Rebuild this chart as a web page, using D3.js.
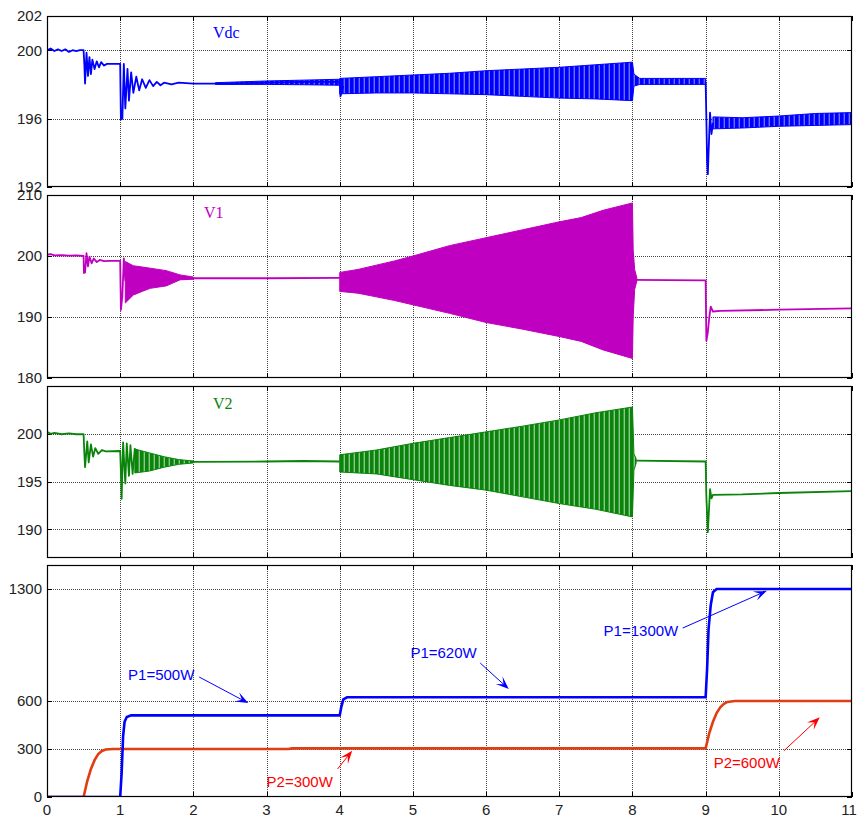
<!DOCTYPE html>
<html><head><meta charset="utf-8">
<script src="https://cdn.jsdelivr.net/npm/d3@7"></script>
<style>body{margin:0;background:#fff}svg{display:block}</style>
</head><body>
<svg id="c" width="858" height="817"></svg>
<script>
// ---------------- data ----------------
const timeTicks = [0,1,2,3,4,5,6,7,8,9,10,11];
const vdcTicks = [192,196,200,202];
const v1Ticks = [180,190,200,210];
const v2Ticks = [190,195,200];
const pTicks = [0,300,600,1300];

// Vdc trace [t, V]  (null = gap where only the oscillation envelope is drawn)
const vdcTrace = [[0,200.0],[0.05,200.1],[0.1,199.95],[0.15,200.05],[0.2,199.95],[0.25,200.05],[0.3,199.9],[0.35,200.0],[0.4,199.95],[0.45,200.0],[0.5,200.0],
 [0.51,199.2],[0.52,198.05],[0.54,199.85],[0.56,198.5],[0.58,199.6],[0.6,198.6],[0.62,199.45],[0.65,198.9],[0.68,199.35],[0.71,199.0],[0.74,199.3],[0.78,199.1],[0.82,199.2],[1.0,199.2],
 [1.005,197.5],[1.01,195.95],[1.03,196.0],[1.05,199.2],[1.07,196.6],[1.1,198.9],[1.12,197.05],[1.15,198.7],[1.18,197.5],[1.22,198.45],[1.26,197.65],[1.3,198.3],[1.35,197.8],[1.4,198.25],[1.45,197.9],[1.5,198.15],[1.55,197.95],[1.6,198.1],[1.7,198.0],[1.8,198.1],[2.0,198.05],[2.5,198.05],[3.0,198.1],[3.5,198.15],[4.0,198.15],
 [4.01,197.3],[4.05,197.9],[null,null],[9.0,198.15],
 [9.01,196.0],[9.02,193.5],[9.03,192.75],[9.04,194.0],[9.06,196.35],[9.08,195.1],[9.1,195.75]];
// Vdc oscillation envelope [t, low, high]
const vdcBand = [[2.3,198.0,198.1],[3.0,198.0,198.2],[3.5,197.98,198.25],[4.0,197.95,198.3],[null,null,null],
 [4.0,197.45,198.35],[4.5,197.5,198.45],[5.0,197.5,198.55],[5.5,197.45,198.65],[6.0,197.4,198.8],[6.5,197.3,198.9],[7.0,197.2,199.0],[7.5,197.15,199.15],[8.0,197.05,199.3],
 [8.02,197.9,198.6],[8.1,198.0,198.35],[9.0,198.0,198.35],[null,null,null],
 [9.1,195.4,196.1],[9.5,195.45,196.05],[10.0,195.55,196.15],[10.5,195.6,196.3],[11.0,195.65,196.35]];

// V1 trace
const v1Trace = [[0,200.2],[0.05,200.3],[0.1,200.1],[0.2,200.15],[0.3,200.05],[0.4,200.1],[0.5,200.0],[0.505,197.2],[0.52,197.3],[0.54,200.45],[0.56,198.3],[0.58,199.9],[0.61,198.8],[0.64,199.6],[0.68,199.0],[0.72,199.35],[0.78,199.15],[0.85,199.2],[1.0,199.2],
 [1.005,195],[1.01,191.15],[1.03,193.5],[1.05,199.6],[1.07,196],[2.0,196.35],[3.0,196.35],[4.0,196.4],[8.0,196.1],[9.0,196.0],
 [9.01,186.1],[9.03,187.5],[9.05,190.0],[9.07,191.7],[9.1,190.9],[9.2,191.0],[10.0,191.2],[11,191.4]];
const v1Band = [[1.07,192.3,199.1],[1.18,193.6,198.4],[1.3,194.2,198.2],[1.41,194.7,198.0],[1.63,195.1,197.6],[1.82,196.1,196.9],[2.0,196.2,196.55],[null,null,null],
 [4.0,194.2,197.3],[4.25,193.9,197.8],[4.5,193.3,198.5],[4.75,192.7,199.2],[5.0,192.0,200.0],[5.5,190.6,201.7],[6.0,189.1,203.0],[6.5,188.0,204.3],[7.0,186.8,205.6],[7.3,186.0,206.3],[7.6,184.6,207.5],[8.0,183.2,208.7],
 [8.01,190,201],[8.03,194.5,197.8],[8.06,195.9,196.4]];

// V2 trace
const v2Trace = [[0,200.2],[0.05,200.0],[0.1,200.1],[0.2,199.95],[0.3,200.05],[0.4,199.95],[0.5,199.95],[0.51,198.0],[0.52,196.5],[0.55,199.2],[0.57,197.0],[0.6,198.9],[0.63,197.6],[0.66,198.5],[0.7,197.9],[0.75,198.3],[0.8,198.15],[1.0,198.2],
 [1.01,196.0],[1.02,193.2],[1.04,199.1],[1.07,194.8],[1.09,199.0],[1.12,195.6],[1.14,198.8],[1.17,195.8],[1.2,198.5],[null,null],[2.0,197.05],[3.0,197.1],[3.5,197.15],[4.0,197.1],[null,null],[8.05,197.2],[9.0,197.1],
 [9.01,193.4],[9.03,189.7],[9.06,194.2],[9.08,193.25],[9.1,193.6],[9.5,193.65],[10,193.8],[11,194.0]];
const v2Band = [[1.2,195.9,198.4],[1.4,196.1,198.0],[1.6,196.5,197.6],[1.8,196.8,197.3],[2.0,196.95,197.15],[null,null,null],
 [4.0,196.0,197.8],[4.5,195.8,198.3],[5.0,195.2,199.0],[5.5,194.6,199.6],[6.0,194.1,200.2],[6.5,193.4,200.8],[7.0,192.7,201.45],[7.5,192.1,202.2],[8.0,191.3,202.8],
 [8.02,196.2,197.9],[8.05,196.9,197.4]];

// Power traces [t, W]
const p1Trace = [[0,0],[1.0,0],[1.02,150],[1.04,380],[1.06,470],[1.09,500],[1.15,510],[4.0,510],[4.02,560],[4.05,610],[4.1,623],[9.0,623],[9.02,800],[9.04,1050],[9.07,1200],[9.1,1280],[9.15,1300],[11,1300]];
const p2Trace = [[0,0],[0.5,0],[0.55,100],[0.6,175],[0.65,230],[0.7,268],[0.75,288],[0.8,297],[0.9,300],[3.3,300],[3.35,304],[9.0,304],[9.05,400],[9.1,470],[9.15,525],[9.2,560],[9.25,582],[9.3,594],[9.4,600],[11,600]];

// Annotations (power panel, data coords)
const annoText = ["P1=500W","P1=620W","P2=300W","P1=1300W","P2=600W"];
const annoSeries = ["P1","P1","P2","P1","P2"];
const annoPos = [[1.108,762],[4.966,900],[3.0,94],[7.606,1038],[9.11,212]];
const annoFrom = [[2.08,750],[5.92,837],[3.97,175],[8.687,1056],[10.07,289]];
const annoTo = [[2.75,587],[6.31,675],[4.17,289],[9.836,1289],[10.56,498]];

// ---------------- drawing ----------------
const svg = d3.select("#c");
const W = 858;
const L = 47, R = 852;
const x = d3.scaleLinear().domain([0,11]).range([L,R]);
const colors = {vdc:"#0000ff", v1:"#c000c0", v2:"#0a840a", P1:"#0000ff", P2:"#e23c12", P2text:"#ff0000"};

const defs = svg.append("defs");
function stripe(id, col, gap){
  const p = defs.append("pattern").attr("id",id).attr("patternUnits","userSpaceOnUse").attr("width",5).attr("height",10);
  p.append("rect").attr("width",5).attr("height",10).attr("fill",gap);
  p.append("rect").attr("width",3.6).attr("height",10).attr("fill",col);
}
stripe("stB","#0000ff","#6f6fff");
stripe("stG","#0a840a","#8cc88c");

const panels = [
  {key:"vdc", dom:[192,202], top:16, bot:187, ticks:vdcTicks, trace:vdcTrace, band:vdcBand, fill:"url(#stB)", title:"Vdc", tx:213, ty:38},
  {key:"v1", dom:[180,210], top:195, bot:378, ticks:v1Ticks, trace:v1Trace, band:v1Band, fill:colors.v1, title:"V1", tx:204, ty:218},
  {key:"v2", dom:[187,205], top:386, bot:558, ticks:v2Ticks, trace:v2Trace, band:v2Band, fill:"url(#stG)", title:"V2", tx:213, ty:409},
  {key:"p", dom:[0,1450], top:565, bot:797, ticks:pTicks}
];

panels.forEach((pn,i)=>{
  const y = d3.scaleLinear().domain(pn.dom).range([pn.bot,pn.top]);
  const g = svg.append("g");
  const cid = "clip"+i;
  defs.append("clipPath").attr("id",cid).append("rect").attr("x",L).attr("y",pn.top).attr("width",R-L).attr("height",pn.bot-pn.top);
  // grid
  const gx = timeTicks.filter(t=>t>0 && t<11);
  g.selectAll(".gx").data(gx).enter().append("line")
    .attr("x1",d=>Math.round(x(d))+0.5).attr("x2",d=>Math.round(x(d))+0.5).attr("y1",pn.top).attr("y2",pn.bot)
    .attr("stroke","#444").attr("stroke-dasharray","1,1").attr("stroke-width",1);
  const gy = pn.ticks.filter(v=>v>pn.dom[0] && v<pn.dom[1]);
  g.selectAll(".gy").data(gy).enter().append("line")
    .attr("y1",d=>Math.round(y(d))+0.5).attr("y2",d=>Math.round(y(d))+0.5).attr("x1",L).attr("x2",R)
    .attr("stroke","#444").attr("stroke-dasharray","1,1").attr("stroke-width",1);
  // ticks inward
  timeTicks.forEach(t=>{
    const xx = Math.round(x(t))+0.5;
    g.append("line").attr("x1",xx).attr("x2",xx).attr("y1",pn.top).attr("y2",pn.top+5).attr("stroke","#000");
    g.append("line").attr("x1",xx).attr("x2",xx).attr("y1",pn.bot).attr("y2",pn.bot-5).attr("stroke","#000");
  });
  pn.ticks.forEach(v=>{
    const yy = Math.round(y(v))+0.5;
    g.append("line").attr("x1",L).attr("x2",L+5).attr("y1",yy).attr("y2",yy).attr("stroke","#000");
    g.append("line").attr("x1",R).attr("x2",R-5).attr("y1",yy).attr("y2",yy).attr("stroke","#000");
  });
  // y labels
  g.selectAll(".yl").data(pn.ticks).enter().append("text")
    .attr("x",L-5).attr("y",d=>y(d)).attr("dy","0.36em").attr("text-anchor","end")
    .attr("font-family","Liberation Sans, Arial, sans-serif").attr("font-size",15).attr("fill","#222")
    .text(d=>d);
  const plot = g.append("g").attr("clip-path",`url(#${cid})`);
  const line = d3.line().defined(d=>d[0]!=null).x(d=>x(d[0])).y(d=>y(d[1]));
  if(pn.key!=="p"){
    const area = d3.area().defined(d=>d[0]!=null).x(d=>x(d[0])).y0(d=>y(d[1])).y1(d=>y(d[2]));
    plot.append("path").datum(pn.band).attr("d",area).attr("fill",pn.fill)
      .attr("stroke",colors[pn.key]).attr("stroke-width",1);
    plot.append("path").datum(pn.trace).attr("d",line).attr("fill","none")
      .attr("stroke",colors[pn.key]).attr("stroke-width",1.8).attr("stroke-linejoin","round");
    g.append("text").attr("x",pn.tx).attr("y",pn.ty).attr("font-family","Liberation Serif, Times New Roman, serif")
      .attr("font-size",16).attr("fill",colors[pn.key]).text(pn.title);
  } else {
    plot.append("path").datum(p2Trace).attr("d",line).attr("fill","none").attr("stroke",colors.P2).attr("stroke-width",2.6);
    plot.append("path").datum(p1Trace).attr("d",line).attr("fill","none").attr("stroke",colors.P1).attr("stroke-width",2.6);
    // x labels
    g.selectAll(".xl").data(timeTicks).enter().append("text")
      .attr("x",d=>Math.min(x(d), W-9)).attr("y",815).attr("text-anchor","middle")
      .attr("font-family","Liberation Sans, Arial, sans-serif").attr("font-size",15).attr("fill","#222")
      .text(d=>d);
    // annotations
    annoText.forEach((txt,k)=>{
      const col = annoSeries[k]==="P1" ? colors.P1 : colors.P2text;
      g.append("text").attr("x",x(annoPos[k][0])).attr("y",y(annoPos[k][1])).attr("dy","0.36em")
        .attr("font-family","Liberation Sans, Arial, sans-serif").attr("font-size",15).attr("fill",col).text(txt);
      const x1 = x(annoFrom[k][0]), y1 = y(annoFrom[k][1]);
      const x2 = x(annoTo[k][0]), y2 = y(annoTo[k][1]);
      const dx = x2-x1, dy = y2-y1, len = Math.hypot(dx,dy), ux = dx/len, uy = dy/len;
      const hl = 13, hw = 5, back = 0.55;
      const bx = x2-ux*hl, by = y2-uy*hl;
      const ix = x2-ux*hl*back, iy = y2-uy*hl*back;
      g.append("line").attr("x1",x1).attr("y1",y1).attr("x2",ix).attr("y2",iy).attr("stroke",col).attr("stroke-width",1);
      g.append("path").attr("d",`M${x2},${y2}L${bx-uy*hw},${by+ux*hw}L${ix},${iy}L${bx+uy*hw},${by-ux*hw}Z`).attr("fill",col);
    });
  }
  // frame
  g.append("rect").attr("x",L+0.5).attr("y",pn.top+0.5).attr("width",R-L-1).attr("height",pn.bot-pn.top-1)
    .attr("fill","none").attr("stroke","#000").attr("stroke-width",1.2);
});
</script>
</body></html>
